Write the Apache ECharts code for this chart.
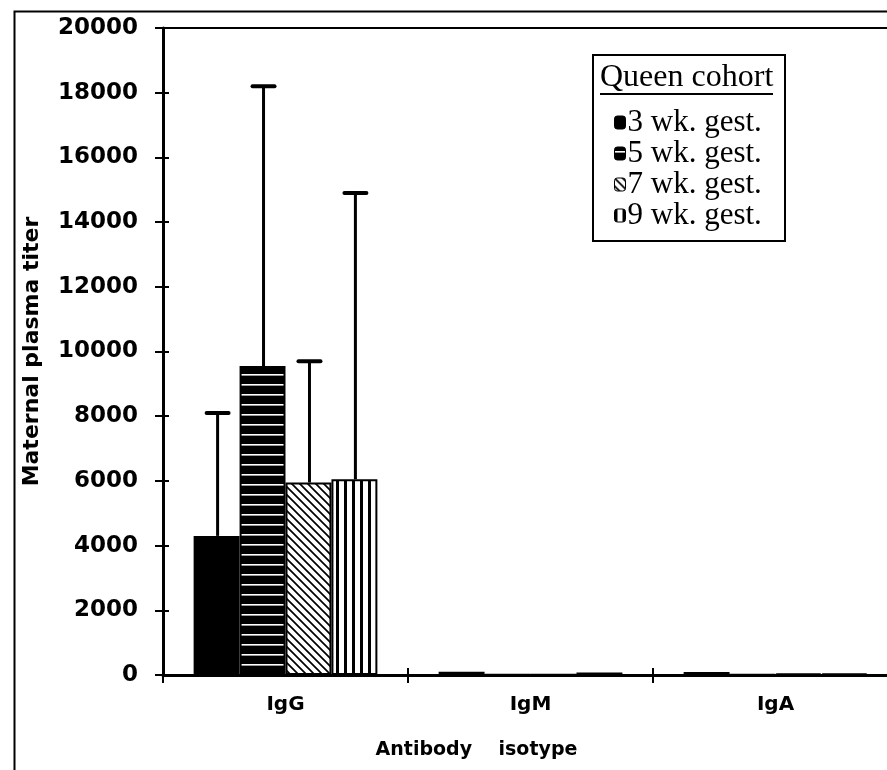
<!DOCTYPE html>
<html><head><meta charset="utf-8">
<script src="https://cdn.jsdelivr.net/npm/echarts@6/dist/echarts.min.js"></script>
<style>html,body{margin:0;padding:0;background:#fff}#c{width:887px;height:770px}</style>
</head><body><div id="c"></div>
<script>
var categories = ['IgG', 'IgM', 'IgA'];
var seriesNames = ['3 wk. gest.', '5 wk. gest.', '7 wk. gest.', '9 wk. gest.'];
var wk3 = [4300, 100, 90];
var wk5 = [9550, 10, 10];
var wk7 = [5950, 10, 40];
var wk9 = [6050, 80, 40];
var err3 = [3800, 0, 0];
var err5 = [8650, 0, 0];
var err7 = [3750, 0, 0];
var err9 = [8850, 0, 0];
var yTicks = [0, 2000, 4000, 6000, 8000, 10000, 12000, 14000, 16000, 18000, 20000];

var values = [wk3, wk5, wk7, wk9];
var errs = [err3, err5, err7, err9];

function mkPattern(kind) {
  var c = document.createElement('canvas');
  var ctx = c.getContext('2d');
  if (kind === 'h') {
    c.width = 10; c.height = 10;
    ctx.fillStyle = '#000'; ctx.fillRect(0, 0, 10, 10);
    ctx.fillStyle = '#fff'; ctx.fillRect(0, 4, 10, 1.6);
  } else if (kind === 'd') {
    c.width = 8; c.height = 8;
    ctx.fillStyle = '#fff'; ctx.fillRect(0, 0, 8, 8);
    ctx.strokeStyle = '#000'; ctx.lineWidth = 1.7;
    ctx.beginPath();
    ctx.moveTo(-2, -2); ctx.lineTo(10, 10);
    ctx.moveTo(-10, -2); ctx.lineTo(2, 10);
    ctx.moveTo(6, -2); ctx.lineTo(18, 10);
    ctx.stroke();
  } else if (kind === 'v') {
    c.width = 8; c.height = 8;
    ctx.fillStyle = '#fff'; ctx.fillRect(0, 0, 8, 8);
    ctx.fillStyle = '#000'; ctx.fillRect(0, 0, 3, 8);
  }
  return { image: c, repeat: 'repeat' };
}
var fills = ['#000', mkPattern('h'), mkPattern('d'), mkPattern('v')];

var chart = echarts.init(document.getElementById('c'), null, { renderer: 'canvas' });
var GAP = 0.25;

var series = [];
values.forEach(function (v, i) {
  series.push({
    name: seriesNames[i], type: 'bar', data: v,
    barGap: 0, barCategoryGap: (GAP * 100) + '%',
    itemStyle: { color: fills[i], borderColor: '#000', borderWidth: 2 },
    z: 2
  });
});
values.forEach(function (v, i) {
  var d = v.map(function (val, k) { return [k, val, val + errs[i][k]]; }).filter(function (d) { return errs[i][d[0]] > 0; });
  series.push({
    type: 'custom', data: d, z: 3, silent: true,
    encode: { x: 0, y: [1, 2] },
    renderItem: function (params, api) {
      var band = api.size([1, 0])[0];
      var bw = band * (1 - GAP) / 4;
      var p0 = api.coord([api.value(0), api.value(1)]);
      var p1 = api.coord([api.value(0), api.value(2)]);
      var x = p0[0] + (i - 1.5) * bw + 1;
      var cap = 11;
      return {
        type: 'group', children: [
          { type: 'line', shape: { x1: x, y1: p0[1], x2: x, y2: p1[1] }, style: { stroke: '#000', lineWidth: 3 } },
          { type: 'line', shape: { x1: x - cap, y1: p1[1], x2: x + cap, y2: p1[1] }, style: { stroke: '#000', lineWidth: 4, lineCap: 'round' } }
        ]
      };
    }
  });
});

var boldFont = 'DejaVu Sans';
var option = {
  animation: false,
  backgroundColor: '#fff',
  grid: { left: 163, top: 28, right: -11, bottom: 95, outerBoundsMode: 'none', containLabel: false,
    show: true, borderColor: '#000', borderWidth: 2, backgroundColor: 'transparent' },
  legend: {
    orient: 'vertical', left: 609, top: 102,
    itemWidth: 11, itemHeight: 13, itemGap: 0,
    data: seriesNames,
    textStyle: { fontFamily: 'Liberation Serif', fontSize: 31, color: '#000', padding: [0, 0, 0, -3] },
    itemStyle: { borderWidth: 1 }
  },
  xAxis: [{
    type: 'category', data: categories, position: 'bottom',
    axisLine: { lineStyle: { color: '#000', width: 3 } },
    axisTick: { show: true, length: 8, lineStyle: { color: '#000', width: 2 } },
    axisLabel: { color: '#000', fontFamily: boldFont, fontWeight: 'bold', fontSize: 20, margin: 20 },
    name: 'Antibody    isotype', nameLocation: 'middle', nameGap: 66,
    nameTextStyle: { color: '#000', fontFamily: boldFont, fontWeight: 'bold', fontSize: 19, padding: [0, 108, 0, 0] }
  }, {
    type: 'category', data: categories, position: 'bottom', gridIndex: 0,
    axisLine: { show: false },
    axisTick: { show: true, inside: true, length: 7, lineStyle: { color: '#000', width: 2 } },
    axisLabel: { show: false }
  }],
  yAxis: [{
    type: 'value', min: 0, max: 20000, interval: 2000,
    axisLine: { show: true, lineStyle: { color: '#000', width: 3 } },
    axisTick: { show: true, length: 8, lineStyle: { color: '#000', width: 2 } },
    splitLine: { show: false },
    axisLabel: { color: '#000', fontFamily: boldFont, fontWeight: 'bold', fontSize: 23, margin: 25,
      formatter: function (v) { return yTicks.indexOf(v) >= 0 ? String(v) : ''; } },
    name: 'Maternal plasma titer', nameLocation: 'middle', nameGap: 120, nameRotate: 90,
    nameTextStyle: { color: '#000', fontFamily: boldFont, fontWeight: 'bold', fontSize: 22 }
  }, {
    type: 'value', min: 0, max: 20000, interval: 2000, position: 'left',
    axisLine: { show: false },
    axisTick: { show: true, inside: true, length: 6, lineStyle: { color: '#000', width: 2 } },
    splitLine: { show: false }, axisLabel: { show: false }
  }],
  graphic: [
    { type: 'rect', left: 12, top: 9, shape: { width: 900, height: 800 }, style: { fill: 'none', stroke: '#000', lineWidth: 2 }, silent: true, z: -1 },
    { type: 'rect', left: 592, top: 54, shape: { width: 192, height: 186 }, style: { fill: '#fff', stroke: '#000', lineWidth: 2 }, z: 1 },
    { type: 'text', left: 600, top: 62, style: { text: 'Queen cohort', fontFamily: 'Liberation Serif', fontSize: 32, fill: '#000' }, z: 2 },
    { type: 'line', shape: { x1: 600, y1: 94, x2: 773, y2: 94 }, style: { stroke: '#000', lineWidth: 2 }, z: 2 }
  ],
  series: series
};
chart.setOption(option);
</script></body></html>
